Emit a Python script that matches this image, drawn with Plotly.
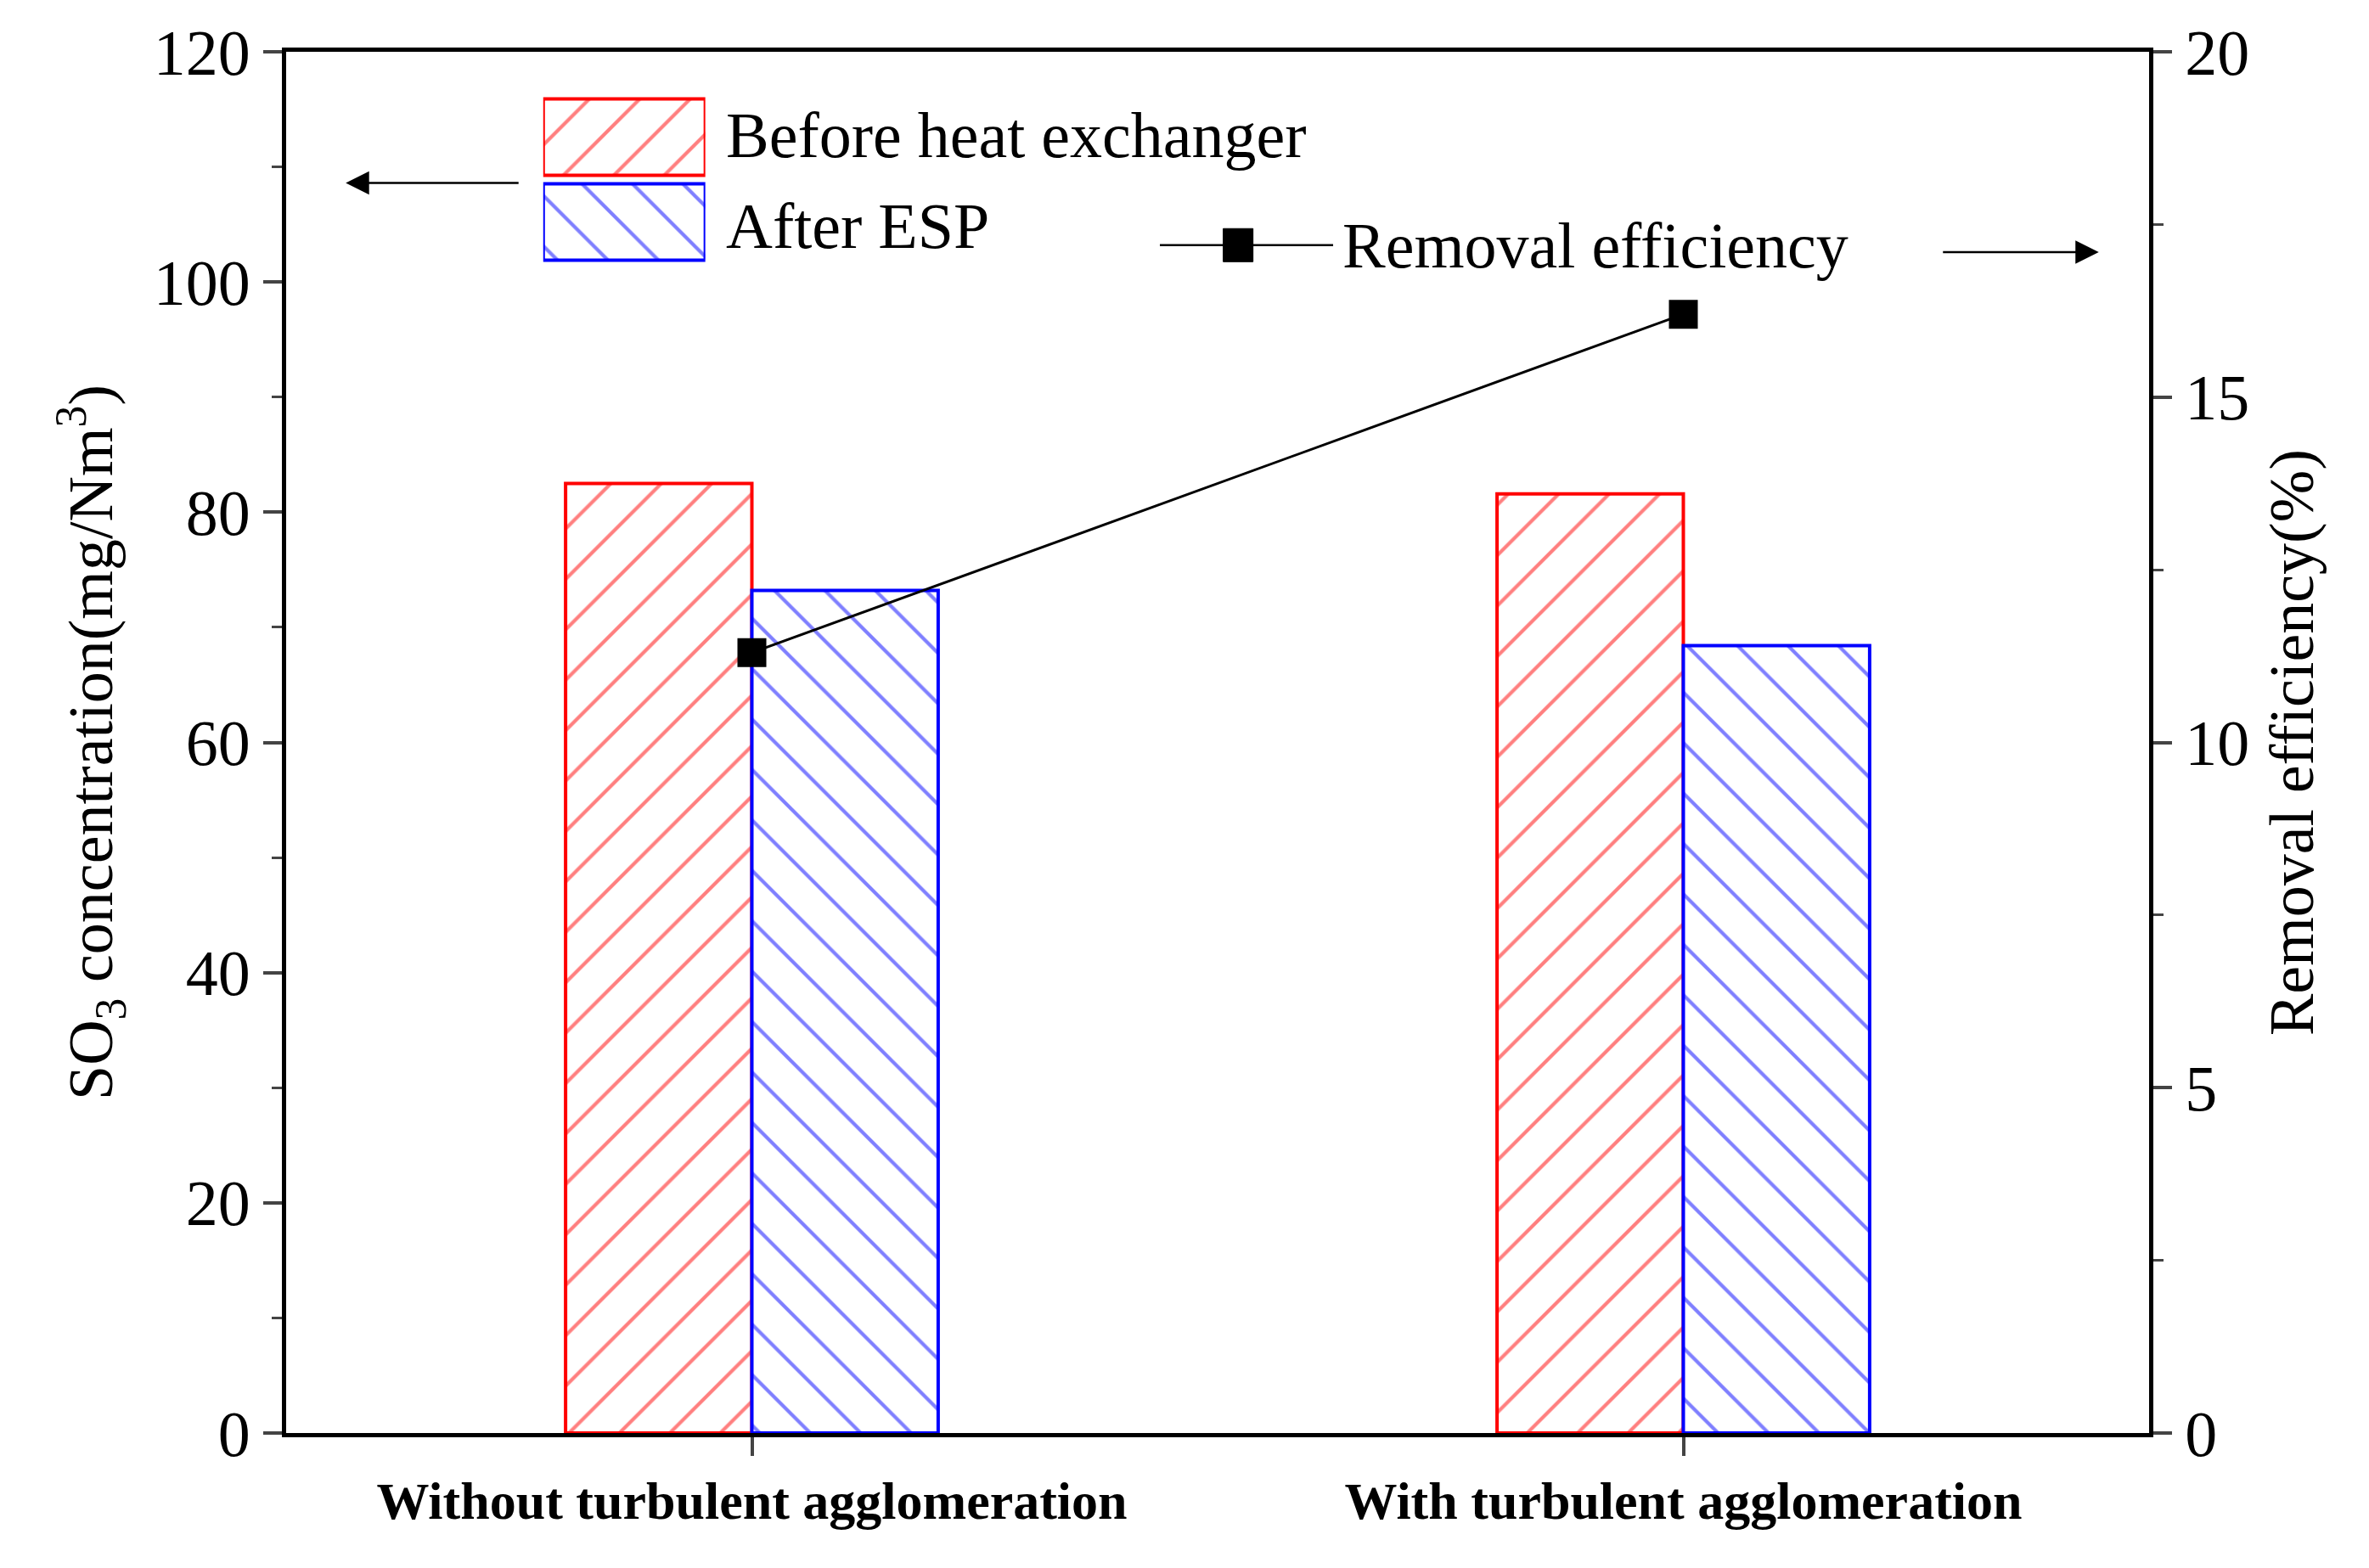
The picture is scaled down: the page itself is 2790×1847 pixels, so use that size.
import plotly.graph_objects as go

categories = ["Without turbulent agglomeration", "With turbulent agglomeration"]
before_hx = [82.5, 81.6]
after_esp = [73.2, 68.4]
removal_eff = [11.3, 16.2]

FONT = "Liberation Serif"
xpos = [0, 1]


def hatch(color, shape):
    return dict(color="white", line=dict(color=color, width=4),
                pattern=dict(shape=shape, fgcolor=color, bgcolor="white", size=42, solidity=0.1))


fig = go.Figure()
fig.add_trace(go.Bar(x=xpos, y=before_hx, width=0.2, offset=-0.2, marker=hatch("red", "/")))
fig.add_trace(go.Bar(x=xpos, y=after_esp, width=0.2, offset=0, marker=hatch("blue", "\\")))
fig.add_trace(go.Scatter(x=xpos, y=removal_eff, yaxis="y2", mode="lines+markers",
                         line=dict(color="black", width=3),
                         marker=dict(symbol="square", size=34, color="black")))

# legend swatches drawn on a small overlay axis
fig.add_trace(go.Bar(x=[1], y=[1], orientation="h", width=0.9, xaxis="x3", yaxis="y3", marker=hatch("red", "/")))
fig.add_trace(go.Bar(x=[1], y=[0], orientation="h", width=0.9, xaxis="x3", yaxis="y3", marker=hatch("blue", "\\")))

fig.update_layout(
    width=2790, height=1847, showlegend=False, barmode="overlay",
    plot_bgcolor="white", paper_bgcolor="white",
    margin=dict(l=329, r=267, t=53, b=167),
    font=dict(family=FONT, size=76, color="black"),
    xaxis=dict(range=[-0.5, 1.5], tickvals=xpos, ticktext=["<b>%s</b>" % c for c in categories],
               tickfont=dict(size=62), showline=True, mirror=True, linecolor="black", linewidth=5,
               ticks="outside", ticklen=22, tickwidth=4, showgrid=False, zeroline=False),
    yaxis=dict(range=[0, 120], dtick=20, ticks="outside", ticklen=22, tickwidth=4,
               minor=dict(dtick=10, ticks="outside", ticklen=12, tickwidth=3),
               showline=True, linecolor="black", linewidth=5, showgrid=False, zeroline=False,
               title=dict(text="SO<sub>3</sub> concentration(mg/Nm<sup>3</sup>)", font=dict(size=74), standoff=25)),
    yaxis2=dict(range=[0, 20], dtick=5, overlaying="y", side="right", ticks="outside", ticklen=22, tickwidth=4,
                minor=dict(dtick=2.5, ticks="outside", ticklen=12, tickwidth=3),
                showline=True, linecolor="black", linewidth=5, showgrid=False, zeroline=False,
                title=dict(text="Removal efficiency(%)", font=dict(size=74), standoff=25)),
    xaxis3=dict(domain=[0.138, 0.225], range=[0, 1], visible=False, fixedrange=True),
    yaxis3=dict(domain=[0.846, 0.969], range=[-0.5, 1.5], visible=False, fixedrange=True),
)

fig.add_annotation(xref="paper", yref="paper", x=0.235, y=0.94, text="Before heat exchanger",
                   showarrow=False, xanchor="left", yanchor="middle", font=dict(size=76))
fig.add_annotation(xref="paper", yref="paper", x=0.235, y=0.874, text="After ESP",
                   showarrow=False, xanchor="left", yanchor="middle", font=dict(size=76))
fig.add_annotation(xref="paper", yref="paper", x=0.032, y=0.905, ax=205, ay=0, text="",
                   showarrow=True, arrowhead=2, arrowsize=2.2, arrowwidth=2.5, arrowcolor="black")
fig.add_annotation(xref="paper", yref="paper", x=0.973, y=0.855, ax=-185, ay=0, text="",
                   showarrow=True, arrowhead=2, arrowsize=2.2, arrowwidth=2.5, arrowcolor="black")
fig.add_shape(type="line", xref="paper", yref="paper", x0=0.469, x1=0.562, y0=0.86, y1=0.86,
              line=dict(color="black", width=2.5))
fig.add_shape(type="rect", xref="paper", yref="paper", x0=0.503, x1=0.519, y0=0.848, y1=0.872,
              fillcolor="black", line=dict(color="black", width=1))
fig.add_annotation(xref="paper", yref="paper", x=0.566, y=0.86, text="Removal efficiency",
                   showarrow=False, xanchor="left", yanchor="middle", font=dict(size=76))

fig.write_html("out.html")
